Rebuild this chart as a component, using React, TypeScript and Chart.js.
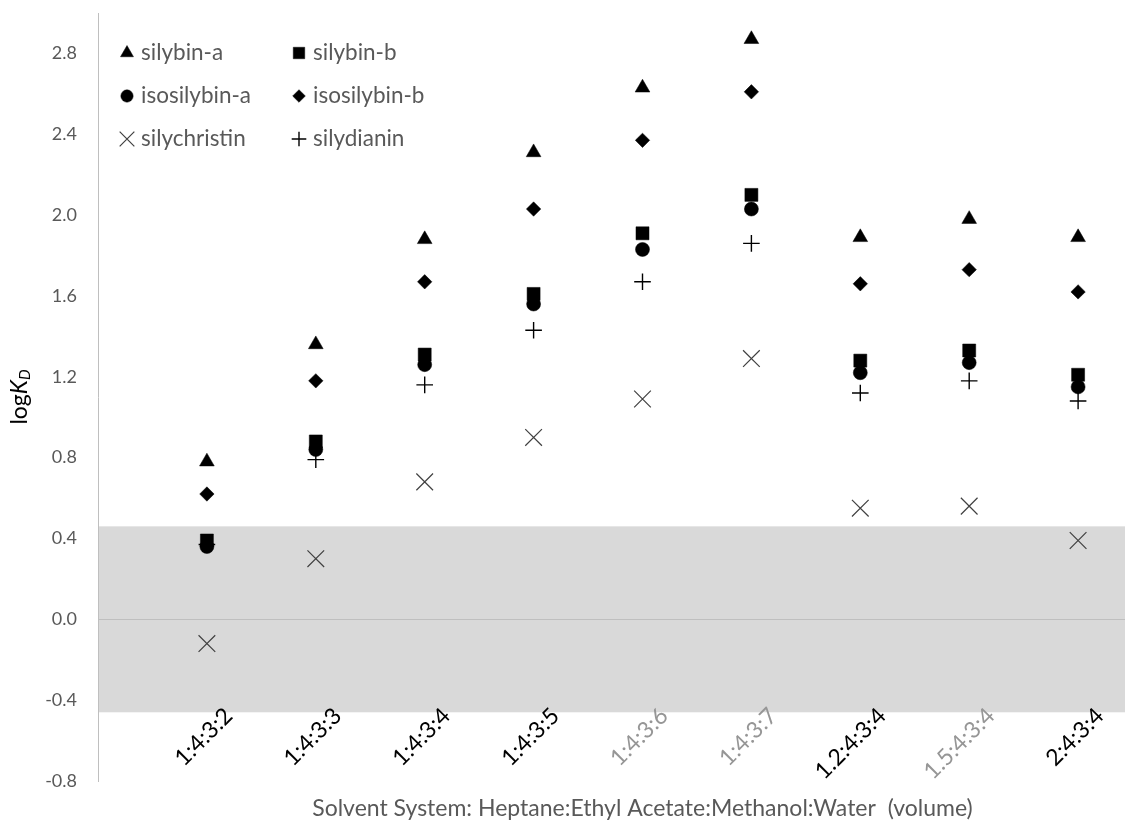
import React, { useEffect, useRef } from 'react';
import { Chart, registerables } from 'chart.js';
import { drawPoint } from 'chart.js/helpers';

Chart.register(...registerables);

// ---------- data ----------
const categories = ['1:4:3:2', '1:4:3:3', '1:4:3:4', '1:4:3:5', '1:4:3:6', '1:4:3:7', '1.2:4:3:4', '1.5:4:3:4', '2:4:3:4'];
const categoryMuted = [false, false, false, false, true, true, false, true, false];

const silybinA = [0.78, 1.36, 1.88, 2.31, 2.63, 2.87, 1.89, 1.98, 1.89];
const silybinB = [0.39, 0.88, 1.31, 1.61, 1.91, 2.1, 1.28, 1.33, 1.21];
const isosilybinA = [0.36, 0.84, 1.26, 1.56, 1.83, 2.03, 1.22, 1.27, 1.15];
const isosilybinB = [0.62, 1.18, 1.67, 2.03, 2.37, 2.61, 1.66, 1.73, 1.62];
const silychristin = [-0.12, 0.3, 0.68, 0.9, 1.09, 1.29, 0.55, 0.56, 0.39];
const silydianin = [0.37, 0.79, 1.16, 1.43, 1.67, 1.86, 1.12, 1.18, 1.08];

const seriesNames = ['silybin-a', 'silybin-b', 'isosilybin-a', 'isosilybin-b', 'silychristin', 'silydianin'];
const seriesValues = [silybinA, silybinB, isosilybinA, isosilybinB, silychristin, silydianin];

const bandRange = [-0.46, 0.46];
const yMin = -0.8;
const yMax = 3.0;
const yStep = 0.4;
const xMin = 0;
const xMax = 10;
// rotated category labels sit slightly to the right of their category
const labelShift = 0.2;

const xTitle = 'Solvent System: Heptane:Ethyl Acetate:Methanol:Water  (volume)';

// ---------- styles ----------
const FONT = 'Lato, "Open Sans", sans-serif';
const markerStyles = [
  { pointStyle: 'triangle', radius: 8.5, color: '#000000', borderWidth: 0.5 },
  { pointStyle: 'rect', radius: 9.2, color: '#000000', borderWidth: 0.5 },
  { pointStyle: 'circle', radius: 7, color: '#000000', borderWidth: 0.5 },
  { pointStyle: 'rectRot', radius: 7.2, color: '#000000', borderWidth: 0.5 },
  { pointStyle: 'crossRot', radius: 11.8, color: '#404040', borderWidth: 1.2 },
  { pointStyle: 'cross', radius: 8.3, color: '#000000', borderWidth: 1.4 },
];

const bandPlugin = {
  id: 'band',
  beforeDraw(chart: any) {
    const { ctx, chartArea, scales } = chart;
    const y = scales.y;
    const top = y.getPixelForValue(bandRange[1]);
    const bottom = y.getPixelForValue(bandRange[0]);
    ctx.save();
    ctx.fillStyle = '#d9d9d9';
    ctx.fillRect(chartArea.left, top, chartArea.right - chartArea.left, bottom - top);
    ctx.restore();
  },
};

const yTitlePlugin = {
  id: 'yTitle',
  afterDraw(chart: any) {
    const { ctx, chartArea } = chart;
    const cx = 20;
    const cy = (chartArea.top + chartArea.bottom) / 2;
    const parts = [
      { t: 'log', f: `23px ${FONT}`, dy: 0 },
      { t: 'K', f: `italic 23px ${FONT}`, dy: 0 },
      { t: 'D', f: `italic 15px ${FONT}`, dy: 5 },
    ];
    ctx.save();
    ctx.translate(cx, cy);
    ctx.rotate(-Math.PI / 2);
    ctx.fillStyle = '#000000';
    ctx.textBaseline = 'middle';
    ctx.textAlign = 'left';
    let total = 0;
    const widths = parts.map((p) => {
      ctx.font = p.f;
      const w = ctx.measureText(p.t).width;
      total += w;
      return w;
    });
    let x = -total / 2;
    parts.forEach((p, i) => {
      ctx.font = p.f;
      ctx.fillText(p.t, x, p.dy);
      x += widths[i];
    });
    ctx.restore();
  },
};

const legendPlugin = {
  id: 'gridLegend',
  afterDraw(chart: any) {
    const { ctx, chartArea } = chart;
    const left = chartArea.left + 29;
    const top = chartArea.top + 40;
    const colW = 172;
    const rowH = 43;
    chart.data.datasets.forEach((ds: any, i: number) => {
      const col = i % 2;
      const row = Math.floor(i / 2);
      const x = left + col * colW;
      const y = top + row * rowH;
      ctx.save();
      ctx.fillStyle = ds.pointBackgroundColor;
      ctx.strokeStyle = ds.pointBorderColor;
      ctx.lineWidth = ds.pointBorderWidth;
      drawPoint(ctx, { pointStyle: ds.pointStyle, radius: ds.pointRadius * 0.88, borderWidth: ds.pointBorderWidth, rotation: 0 }, x, y);
      ctx.fillStyle = '#595959';
      ctx.font = `22.5px ${FONT}`;
      ctx.textBaseline = 'middle';
      ctx.textAlign = 'left';
      ctx.fillText(ds.label, x + 14, y);
      ctx.restore();
    });
  },
};

export default function App() {
  const canvasRef = useRef<HTMLCanvasElement | null>(null);

  useEffect(() => {
    const canvas = canvasRef.current;
    if (!canvas) return;
    const datasets = seriesNames.map((name, si) => {
      const st = markerStyles[si];
      return {
        label: name,
        data: seriesValues[si].map((v, i) => ({ x: i + 1, y: v })),
        showLine: false,
        xAxisID: 'x',
        yAxisID: 'y',
        pointStyle: st.pointStyle,
        pointRadius: st.radius,
        pointHoverRadius: st.radius,
        pointBackgroundColor: st.color,
        pointBorderColor: st.color,
        pointBorderWidth: st.borderWidth,
        backgroundColor: st.color,
        borderColor: st.color,
      };
    });

    const categoryTicks = (s: any) => {
      s.ticks = categories.map((_, i) => ({ value: i + 1 }));
    };

    const chart = new Chart(canvas, {
      type: 'scatter',
      data: { datasets },
      plugins: [bandPlugin, yTitlePlugin, legendPlugin],
      options: {
        responsive: false,
        animation: false,
        devicePixelRatio: 1,
        layout: { padding: { top: 7, right: 2, left: 0, bottom: 0 } },
        plugins: {
          legend: { display: false },
          tooltip: { enabled: false },
        },
        scales: {
          x: {
            type: 'linear',
            position: 'bottom',
            min: xMin,
            max: xMax,
            grid: { display: false, drawTicks: false },
            border: { display: false },
            afterBuildTicks: categoryTicks,
            afterFit: (s: any) => {
              s.height = 39;
              s.paddingLeft = 0;
              s.paddingRight = 0;
            },
            ticks: { display: false },
            title: {
              display: true,
              text: xTitle,
              color: '#595959',
              font: { family: FONT, size: 23 },
              padding: { top: 0, bottom: -2 },
            },
          },
          xLabels: {
            type: 'linear',
            axis: 'x',
            position: { y: bandRange[0] },
            min: xMin - labelShift,
            max: xMax - labelShift,
            grid: { display: false, drawTicks: false },
            border: { display: false },
            afterBuildTicks: categoryTicks,
            afterFit: (s: any) => {
              s.paddingLeft = 0;
              s.paddingRight = 0;
            },
            ticks: {
              autoSkip: false,
              minRotation: 45,
              maxRotation: 45,
              padding: -10,
              font: { family: FONT, size: 23 },
              color: (c: any) => (categoryMuted[c.index] ? '#969696' : '#000000'),
              callback: (v: any) => categories[Math.round(Number(v)) - 1] ?? '',
            },
          },
          y: {
            type: 'linear',
            position: 'left',
            min: yMin,
            max: yMax,
            afterFit: (s: any) => {
              s.width = 98;
              s.paddingTop = 0;
              s.paddingBottom = 0;
            },
            ticks: {
              stepSize: yStep,
              includeBounds: false,
              padding: 21,
              color: '#595959',
              font: { family: FONT, size: 18 },
              callback: (v: any) => (Math.abs(Number(v)) < 1e-9 ? 0 : Number(v)).toFixed(1),
            },
            grid: {
              drawTicks: false,
              lineWidth: 1,
              color: (c: any) => (c.tick && Math.abs(c.tick.value) < 1e-9 ? '#bfbfbf' : 'rgba(0,0,0,0)'),
            },
            border: { display: true, color: '#bfbfbf', width: 1 },
          },
        },
      } as any,
    } as any);

    return () => {
      chart.destroy();
    };
  }, []);

  return (
    <div
      style={{
        position: 'fixed',
        left: 0,
        top: 0,
        width: 1125,
        height: 820,
        overflow: 'hidden',
        background: '#ffffff',
      }}
    >
      <canvas ref={canvasRef} width={1200} height={820} style={{ display: 'block' }} />
    </div>
  );
}
